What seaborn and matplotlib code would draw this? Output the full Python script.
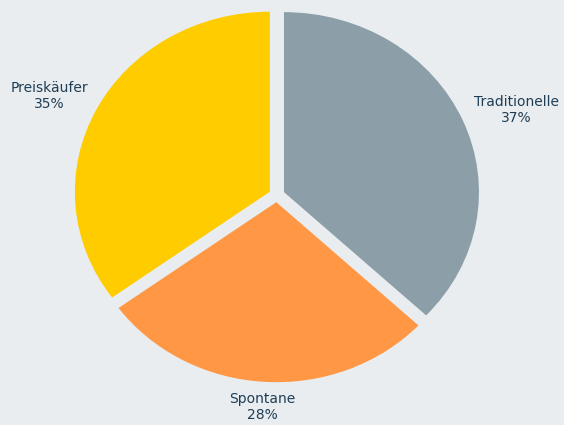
import numpy as np
import matplotlib
matplotlib.use("Agg")
import matplotlib.pyplot as plt
import seaborn as sns

categories = ["Traditionelle", "Spontane", "Preiskäufer"]
shares = [37, 28, 35]
palette = ["#8c9fa9", "#ff9744", "#ffcc00"]

sns.set_style("white")
plt.rcParams["font.family"] = ["DejaVu Sans"]

bg = "#e9edef"
fig = plt.figure(figsize=(5.64, 4.25), dpi=100, facecolor=bg)
ax = fig.add_axes([0, 0, 1, 1])
ax.set_facecolor(bg)

wedges, _ = ax.pie(shares, colors=palette, startangle=90, counterclock=False,
                   explode=[0.04] * len(shares), radius=1.0,
                   wedgeprops=dict(linewidth=0))
ax.set_aspect("auto")
ax.set_xlim(-1.4195, 1.4728)
ax.set_ylim(-1.2778, 1.0833)
ax.axis("off")

label_dist = [1.314, 1.18, 1.29]
label_turn = [-2.4, 0.0, 1.8]
for w, name, val, d, t in zip(wedges, categories, shares, label_dist, label_turn):
    ang = np.deg2rad((w.theta1 + w.theta2) / 2 + t)
    ax.text(d * np.cos(ang), d * np.sin(ang), f"{name}\n{val}%",
            ha="center", va="center", multialignment="center",
            fontsize=10, color="#1f3e56", linespacing=1.2)

fig.savefig("out.png", dpi=100, facecolor=bg)
